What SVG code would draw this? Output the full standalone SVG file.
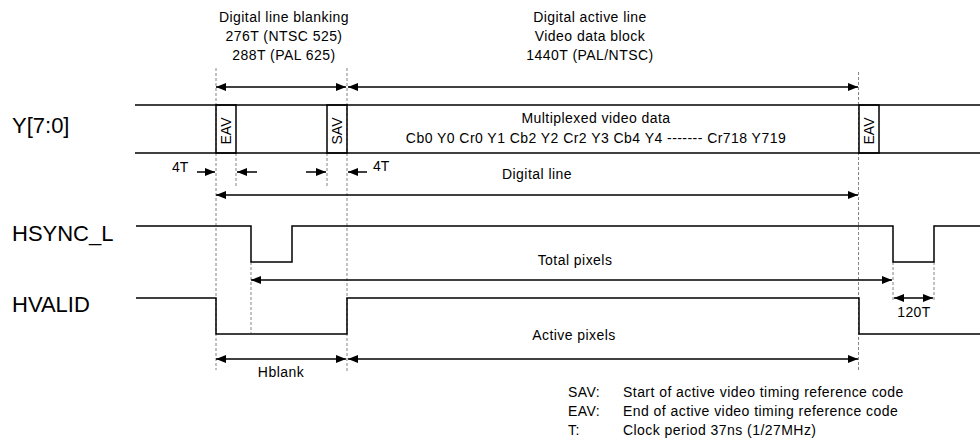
<svg xmlns="http://www.w3.org/2000/svg" width="980" height="442" viewBox="0 0 980 442">
  <defs>
    <marker id="ah" viewBox="0 0 10 8" refX="10" refY="4" markerWidth="10" markerHeight="8" markerUnits="userSpaceOnUse" orient="auto-start-reverse">
      <path d="M0,0 L10,4 L0,8 z" fill="#000"/>
    </marker>
  </defs>
  <style>
    text { font-family: "Liberation Sans", Arial, sans-serif; fill: #000; }
    .sig { font-size: 22px; }
    .lbl { font-size: 14px; letter-spacing: 0.45px; }
    .mid { text-anchor: middle; }
    .wave { fill: none; stroke: #000; stroke-width: 1.5; }
    .guide { fill: none; stroke: #666; stroke-width: 0.8; stroke-dasharray: 3 2; }
    .dim { fill: none; stroke: #000; stroke-width: 1.5; }
    .both { marker-start: url(#ah); marker-end: url(#ah); }
    .end { marker-end: url(#ah); }
  </style>
  <rect width="980" height="442" fill="#fff"/>

  <!-- vertical timing guides -->
  <g id="guides">
    <line class="guide" x1="216" y1="68" x2="216" y2="370"/>
    <line class="guide" x1="347" y1="68" x2="347" y2="371"/>
    <line class="guide" x1="858.5" y1="72" x2="858.5" y2="370"/>
    <line class="guide" x1="236" y1="153" x2="236" y2="188"/>
    <line class="guide" x1="327" y1="153" x2="327" y2="188"/>
    <line class="guide" x1="251" y1="262" x2="251" y2="333"/>
    <line class="guide" x1="893" y1="262" x2="893" y2="302"/>
    <line class="guide" x1="934" y1="262" x2="934" y2="302"/>
  </g>

  <!-- header labels -->
  <g id="blanking-label" class="lbl mid">
    <text x="284" y="22">Digital line blanking</text>
    <text x="284" y="41">276T (NTSC 525)</text>
    <text x="284" y="60">288T (PAL 625)</text>
  </g>
  <g id="active-label" class="lbl mid">
    <text x="590" y="22">Digital active line</text>
    <text x="590" y="41">Video data block</text>
    <text x="590" y="60">1440T (PAL/NTSC)</text>
  </g>

  <!-- Y[7:0] data bus -->
  <g id="ybus">
    <text class="sig" x="12" y="133">Y[7:0]</text>
    <line class="wave" x1="135" y1="105" x2="980" y2="105"/>
    <line class="wave" x1="135" y1="153" x2="980" y2="153"/>
    <rect class="wave" x="216" y="105" width="20" height="48"/>
    <rect class="wave" x="327" y="105" width="20" height="48"/>
    <rect class="wave" x="859" y="105" width="20" height="48"/>
    <text class="lbl mid" transform="translate(231,131) rotate(-90)" style="letter-spacing:0">EAV</text>
    <text class="lbl mid" transform="translate(342,131) rotate(-90)" style="letter-spacing:0">SAV</text>
    <text class="lbl mid" transform="translate(874,131) rotate(-90)" style="letter-spacing:0">EAV</text>
    <text class="lbl mid" x="596" y="123">Multiplexed video data</text>
    <text class="lbl mid" x="596" y="143">Cb0 Y0 Cr0 Y1 Cb2 Y2 Cr2 Y3 Cb4 Y4 ------- Cr718 Y719</text>
  </g>

  <!-- HSYNC_L -->
  <g id="hsync">
    <text class="sig" x="12" y="241">HSYNC_L</text>
    <polyline class="wave" points="136,226 251,226 251,262 292,262 292,226 893,226 893,262 934,262 934,226 980,226"/>
  </g>

  <!-- HVALID -->
  <g id="hvalid">
    <text class="sig" x="12" y="312">HVALID</text>
    <polyline class="wave" points="136,298 216,298 216,334 347,334 347,298 859,298 859,334 980,334"/>
  </g>

  <!-- dimension arrows -->
  <g id="connectors">
    <line class="dim both" x1="216" y1="87" x2="346" y2="87"/>
    <line class="dim both" x1="348" y1="87" x2="858" y2="87"/>
    <line class="dim end" x1="197" y1="172" x2="215" y2="172"/>
    <line class="dim end" x1="257" y1="172" x2="237" y2="172"/>
    <line class="dim end" x1="306" y1="172" x2="326" y2="172"/>
    <line class="dim end" x1="367" y1="172" x2="348" y2="172"/>
    <line class="dim both" x1="216" y1="195" x2="858" y2="195"/>
    <line class="dim both" x1="251" y1="280" x2="892" y2="280"/>
    <line class="dim both" x1="894" y1="298" x2="933" y2="298"/>
    <line class="dim both" x1="216" y1="359" x2="346" y2="359"/>
    <line class="dim both" x1="348" y1="359" x2="858" y2="359"/>
  </g>

  <!-- dimension labels -->
  <g id="dim-labels" class="lbl">
    <text x="172" y="172" style="letter-spacing:0">4T</text>
    <text x="373" y="171" style="letter-spacing:0">4T</text>
    <text class="mid" x="537" y="179">Digital line</text>
    <text class="mid" x="575" y="265">Total pixels</text>
    <text class="mid" x="914" y="317">120T</text>
    <text class="mid" x="574" y="340">Active pixels</text>
    <text class="mid" x="281" y="377">Hblank</text>
  </g>

  <!-- legend -->
  <g id="legend" class="lbl">
    <text x="568" y="397">SAV:</text>
    <text x="623" y="397">Start of active video timing reference code</text>
    <text x="568" y="416">EAV:</text>
    <text x="623" y="416">End of active video timing reference code</text>
    <text x="568" y="435">T:</text>
    <text x="623" y="435">Clock period 37ns (1/27MHz)</text>
  </g>
</svg>
